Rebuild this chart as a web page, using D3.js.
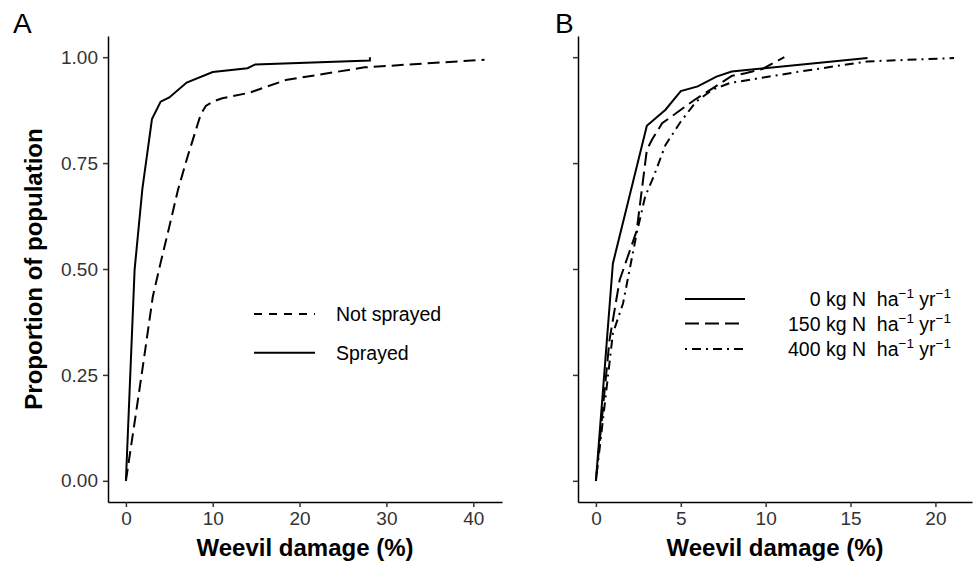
<!DOCTYPE html>
<html>
<head>
<meta charset="utf-8">
<script src="https://cdn.jsdelivr.net/npm/d3@7"></script>
<style>
body { margin: 0; background: #fff; }
text { font-family: "Liberation Sans", Arial, sans-serif; }
</style>
</head>
<body>
<figure id="weevil" style="margin:0"></figure>
<script>
// panel A - spraying treatment (cumulative proportion of population vs weevil damage %)
var sprayedDamage = [0, 1, 1.9, 3, 4, 5, 7, 10, 14, 14.9, 28.1, 28.1];
var sprayedProp   = [0, 0.498, 0.69, 0.854, 0.895, 0.905, 0.94, 0.965, 0.974, 0.983, 0.992, 1.0];
var notSprayedDamage = [0, 0.8, 1.95, 3.1, 4, 5, 6, 7.1, 8.6, 9.2, 10, 11.1, 14.2, 18.4, 27.5, 41.3];
var notSprayedProp   = [0, 0.11, 0.27, 0.435, 0.515, 0.6, 0.687, 0.765, 0.864, 0.885, 0.895, 0.903, 0.916, 0.946, 0.976, 0.994];

// panel B - nitrogen treatment
var n0Damage = [0, 1, 3, 4.1, 5, 6, 7.1, 8, 16];
var n0Prop   = [0, 0.513, 0.838, 0.876, 0.92, 0.931, 0.954, 0.966, 0.998];
var n150Damage = [0, 0.8, 1.4, 2.4, 3, 3.3, 3.9, 5.8, 6.9, 8, 8.8, 9.8, 11.1];
var n150Prop   = [0, 0.332, 0.474, 0.59, 0.781, 0.805, 0.844, 0.899, 0.927, 0.956, 0.962, 0.972, 1.0];
var n400Damage = [0, 1, 1.6, 2.4, 2.9, 3.4, 4.1, 5, 5.9, 6.9, 7.9, 12, 16, 21.1];
var n400Prop   = [0, 0.348, 0.419, 0.584, 0.671, 0.718, 0.793, 0.848, 0.895, 0.924, 0.939, 0.966, 0.99, 0.998];

var yTicks = [0, 0.25, 0.5, 0.75, 1];
var xTicksA = [0, 10, 20, 30, 40];
var xTicksB = [0, 5, 10, 15, 20];
var labelsA = ["Not sprayed", "Sprayed"];
var labelsB = ["0", "150", "400"];

function zip(xs, ys) {
    return xs.map(function(v, i) { return {damage: v, prop: ys[i]}; });
}

var width = 974, height = 563;
var svg = d3.select("figure#weevil")
    .append("svg")
    .attr("width", width)
    .attr("height", height);

// y scale shared by both panels (ggplot style 5% expansion)
var plotTop = 36, plotBottom = 502;
var y = d3.scaleLinear().domain([-0.05, 1.05]).range([plotBottom, plotTop]);

function xScale(maxVal, left, right) {
    return d3.scaleLinear().domain([-0.05 * maxVal, 1.05 * maxVal]).range([left, right]);
}
var xA = xScale(41.25, 108, 502);
var xB = xScale(21.1, 578, 972);

function styleAxis(g) {
    g.select(".domain").attr("stroke", "#000").attr("stroke-width", 1.5);
    g.selectAll(".tick line").attr("stroke", "#333").attr("stroke-width", 1.5);
    g.selectAll(".tick text").attr("fill", "#333").style("font-size", "19px")
        .style("font-family", '"Liberation Sans", Arial, sans-serif');
}

function drawAxes(x, ticks, showY) {
    var cx = (x.range()[0] + x.range()[1]) / 2;
    svg.append("g")
        .attr("transform", "translate(0," + plotBottom + ")")
        .call(d3.axisBottom(x).tickValues(ticks).tickSize(5).tickPadding(5).tickSizeOuter(0))
        .call(styleAxis);
    svg.append("g")
        .attr("transform", "translate(" + x.range()[0] + ",0)")
        .call(d3.axisLeft(y).tickValues(yTicks).tickSize(5).tickPadding(5).tickSizeOuter(0)
            .tickFormat(showY ? d3.format(".2f") : ""))
        .call(styleAxis);
    svg.append("text")
        .attr("x", cx).attr("y", 556)
        .attr("text-anchor", "middle")
        .style("font-size", "24px").style("font-weight", "bold")
        .text("Weevil damage (%)");
}

function drawLine(x, data, dash) {
    var line = d3.line()
        .x(function(d) { return x(d.damage); })
        .y(function(d) { return y(d.prop); });
    svg.append("path")
        .datum(data)
        .attr("fill", "none")
        .attr("stroke", "#000")
        .attr("stroke-width", 2)
        .attr("stroke-dasharray", dash)
        .attr("d", line);
}

// panel A
drawAxes(xA, xTicksA, true);
drawLine(xA, zip(notSprayedDamage, notSprayedProp), "12,6");
drawLine(xA, zip(sprayedDamage, sprayedProp), null);

// panel B
drawAxes(xB, xTicksB, false);
drawLine(xB, zip(n400Damage, n400Prop), "2,5,9,5");
drawLine(xB, zip(n150Damage, n150Prop), "14,6");
drawLine(xB, zip(n0Damage, n0Prop), null);

// y axis title
svg.append("text")
    .attr("transform", "translate(42,269) rotate(-90)")
    .attr("text-anchor", "middle")
    .style("font-size", "24px").style("font-weight", "bold")
    .text("Proportion of population");

// panel tags
svg.append("text").attr("x", 13).attr("y", 33).style("font-size", "28px").text("A");
svg.append("text").attr("x", 555).attr("y", 33).style("font-size", "28px").text("B");

// legend A
var dashA = ["8,7", null];
var legA = svg.append("g");
labelsA.forEach(function(lab, i) {
    var ly = 314 + i * 38.7;
    legA.append("line").attr("x1", 254).attr("x2", 315).attr("y1", ly).attr("y2", ly)
        .attr("stroke", "#000").attr("stroke-width", 2).attr("stroke-dasharray", dashA[i]);
    legA.append("text").attr("x", 336).attr("y", ly).attr("dy", "0.35em")
        .style("font-size", "19.5px").text(lab);
});

// legend B
var dashB = [null, "14,6", "2,5,9,5"];
var legB = svg.append("g");
labelsB.forEach(function(lab, i) {
    var ly = [299, 323.5, 349][i];
    legB.append("line").attr("x1", 685).attr("x2", 745).attr("y1", ly).attr("y2", ly)
        .attr("stroke", "#000").attr("stroke-width", 2).attr("stroke-dasharray", dashB[i]);
    var t = legB.append("text").attr("x", 951).attr("y", ly + 7)
        .attr("text-anchor", "end").style("font-size", "19.5px");
    t.append("tspan").text(lab + " kg N\u00a0\u00a0ha");
    t.append("tspan").attr("dy", -8).style("font-size", "13.5px").text("\u22121");
    t.append("tspan").attr("dy", 8).text(" yr");
    t.append("tspan").attr("dy", -8).style("font-size", "13.5px").text("\u22121");
});
</script>
</body>
</html>
